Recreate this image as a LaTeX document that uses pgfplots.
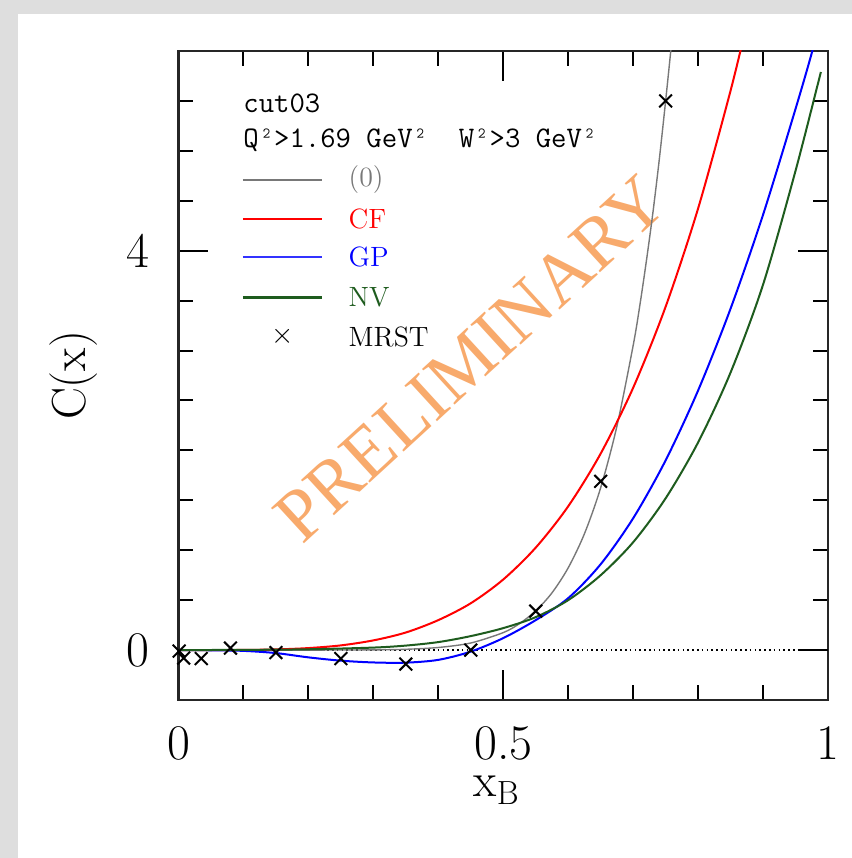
\documentclass[border=0pt]{standalone}
\usepackage{pgfplots}
\pgfplotsset{compat=1.18}
\usepackage{fontspec}
\newfontfamily\wmfont{Liberation Serif}
\definecolor{bggray}{RGB}{222,222,222}
\definecolor{nvgreen}{RGB}{30,92,30}
\definecolor{zgray}{RGB}{120,120,120}
\definecolor{gpblue}{RGB}{0,0,255}
\definecolor{gplegend}{RGB}{50,50,255}
\definecolor{cfred}{RGB}{255,0,0}
\definecolor{prelim}{RGB}{248,170,108}
\begin{document}
\begin{tikzpicture}
\fill[bggray] (-89.25bp,-79bp) rectangle (336.75bp,350bp);
\fill[white] (-80.25bp,-79bp) rectangle (336.75bp,343bp);
\begin{axis}[
  at={(0,0)}, anchor=south west,
  scale only axis, width=324.75bp, height=324.5bp,
  xmin=0, xmax=1, ymin=-0.5, ymax=6,
  xtick={0,0.5,1}, xticklabels={0,0.5,1}, minor x tick num=4,
  ytick={0,4}, yticklabels={0,4},
  minor ytick={0.5,1,1.5,2,2.5,3,3.5,4.5,5,5.5},
  major tick length=15bp, minor tick length=7.5bp,
  every tick/.style={black, line width=1bp},
  axis line style={line width=1.2bp, black!85},
  tick label style={font=\fontsize{25}{25}\selectfont},
  xticklabel style={yshift=-10bp},
  yticklabel style={xshift=-11bp},
  xlabel={$\mathrm{x}_{\mathrm{B}}$}, ylabel={C(x)},
  label style={font=\fontsize{24}{24}\selectfont},
  xlabel style={at={(axis description cs:0.49,-0.139)}, anchor=center},
  ylabel style={at={(axis description cs:-0.162,0.5)}, anchor=center},
  clip mode=individual,
]
% watermark
\node[rotate=42.5, text=prelim, font=\wmfont\fontsize{37}{37}\selectfont] at (axis cs:0.449,2.92) {PRELIMINARY};

% zero line
\addplot[black, line width=0.8bp, dash pattern=on 0.8bp off 1.6bp] coordinates {(0,0) (1,0)};

% (0)
\addplot[zgray, line width=0.7bp, smooth] coordinates {
(0,0) (0.1,0) (0.2,0.0) (0.3,0.002) (0.35,0.008) (0.40,0.026) (0.45,0.071) (0.50,0.175)
(0.525,0.265) (0.55,0.393) (0.575,0.573) (0.60,0.824) (0.625,1.165) (0.65,1.626) (0.675,2.242)
(0.70,3.05) (0.71,3.44) (0.72,3.88) (0.73,4.36) (0.74,4.90) (0.75,5.5) (0.76,6.14) (0.77,6.86)};

% CF
\addplot[cfred, line width=1bp, smooth] coordinates {
(0,0) (0.05,0.0001) (0.10,0.0013) (0.15,0.0065) (0.20,0.020) (0.25,0.047) (0.30,0.097)
(0.35,0.176) (0.40,0.30) (0.45,0.469) (0.50,0.707) (0.55,1.026) (0.60,1.44) (0.65,1.968)
(0.70,2.627) (0.75,3.439) (0.80,4.423) (0.85,5.603) (0.875,6.274)};

% GP
\addplot[gpblue, line width=1bp, smooth] coordinates {
(0,0) (0.05,-0.002) (0.10,-0.008) (0.15,-0.03) (0.20,-0.073) (0.25,-0.106) (0.30,-0.124)
(0.35,-0.126) (0.40,-0.098) (0.45,-0.015) (0.50,0.12) (0.55,0.30) (0.60,0.52) (0.65,0.86)
(0.70,1.32) (0.75,1.90) (0.80,2.60) (0.85,3.42) (0.90,4.36) (0.95,5.42) (0.975,5.98) (0.985,6.25)};

% NV
\addplot[nvgreen, line width=1bp, smooth] coordinates {
(0,0) (0.10,0.002) (0.20,0.008) (0.30,0.025) (0.35,0.045) (0.40,0.08) (0.45,0.14) (0.50,0.22)
(0.55,0.33) (0.60,0.50) (0.65,0.75) (0.70,1.08) (0.75,1.52) (0.80,2.08) (0.85,2.78)
(0.90,3.66) (0.95,4.80) (0.989,5.79)};

% MRST
\addplot[only marks, mark=x, mark size=4.5bp, black, line width=1bp] coordinates {
(0.001,-0.01) (0.008,-0.08) (0.035,-0.085) (0.08,0.02) (0.15,-0.025) (0.25,-0.085)
(0.35,-0.14) (0.45,0.0) (0.55,0.39) (0.65,1.69) (0.75,5.5)};

% header texts
\node[anchor=west, inner sep=0pt, font=\ttfamily\fontsize{15}{15}\selectfont] at (axis description cs:0.0993,0.920) {cut03};
\node[anchor=west, inner sep=0pt, font=\ttfamily\fontsize{15}{15}\selectfont] at (axis description cs:0.0993,0.863) {Q²>1.69 GeV²~~W²>3 GeV²};

% legend
\draw[draw=zgray, line width=1bp] (axis description cs:0.0993,0.802) -- (axis description cs:0.2205,0.802);
\draw[draw=cfred, line width=1bp] (axis description cs:0.0993,0.741) -- (axis description cs:0.2205,0.741);
\draw[draw=gplegend, line width=1.1bp] (axis description cs:0.0993,0.682) -- (axis description cs:0.2205,0.682);
\draw[draw=nvgreen, line width=1.2bp] (axis description cs:0.0993,0.620) -- (axis description cs:0.2205,0.620);
\node[inner sep=0pt, font=\fontsize{15}{15}\selectfont] at (axis description cs:0.161,0.560) {$\times$};
\node[anchor=west, inner sep=0pt, text=zgray, font=\fontsize{14}{14}\selectfont] at (axis description cs:0.2614,0.802) {(0)};
\node[anchor=west, inner sep=0pt, text=cfred, font=\fontsize{14}{14}\selectfont] at (axis description cs:0.2614,0.741) {CF};
\node[anchor=west, inner sep=0pt, text=gpblue, font=\fontsize{14}{14}\selectfont] at (axis description cs:0.2614,0.682) {GP};
\node[anchor=west, inner sep=0pt, text=nvgreen, font=\fontsize{14}{14}\selectfont] at (axis description cs:0.2614,0.620) {NV};
\node[anchor=west, inner sep=0pt, font=\fontsize{14}{14}\selectfont] at (axis description cs:0.2614,0.560) {MRST};
\end{axis}
\end{tikzpicture}
\end{document}
